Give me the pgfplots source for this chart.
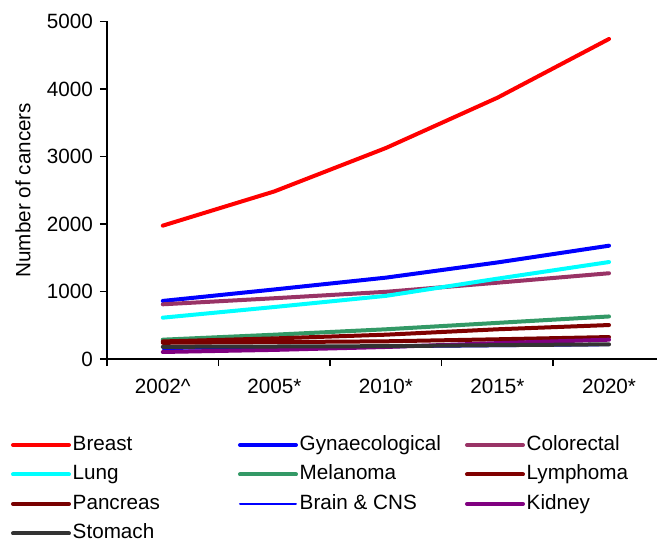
\documentclass[border=0pt]{standalone}
\usepackage{fontspec}
\setmainfont{Liberation Sans}
\usepackage{pgfplots}
\pgfplotsset{compat=1.18}

\definecolor{cBreast}{RGB}{255,0,0}
\definecolor{cGyn}{RGB}{0,0,255}
\definecolor{cColo}{RGB}{153,51,102}
\definecolor{cLung}{RGB}{0,255,255}
\definecolor{cMel}{RGB}{51,153,102}
\definecolor{cLym}{RGB}{128,0,0}
\definecolor{cPan}{RGB}{120,0,0}
\definecolor{cBrain}{RGB}{0,0,255}
\definecolor{cKid}{RGB}{128,0,128}
\definecolor{cSto}{RGB}{51,51,51}

\newcommand\legtxt[1]{\makebox[125.25pt][l]{\hspace{1.3pt}#1}}
\newcommand\fnt{\fontsize{15.5}{18.6}\selectfont}

\begin{document}
\begin{tikzpicture}
\begin{axis}[
  scale only axis, width=412.5pt, height=253.2pt,
  xmin=-0.5, xmax=4.43, ymin=0, ymax=5000,
  axis x line=bottom, axis y line=left,
  axis line style={-, line width=1.2pt, black},
  tick align=outside, major tick length=5.25pt,
  every tick/.style={black, line width=1.2pt},
  xtick={-0.5,0.5,1.5,2.5,3.5}, xticklabels={},
  extra x ticks={0,1,2,3,4},
  extra x tick labels={2002\textasciicircum,2005*,2010*,2015*,2020*},
  extra x tick style={major tick length=0pt, tick label style={yshift=-11.8pt}},
  ytick={0,1000,2000,3000,4000,5000},
  yticklabel style={xshift=-1.8pt},
  /pgf/number format/assume math mode=true,
  /pgf/number format/1000 sep={},
  tick label style={font=\fnt},
  label style={font=\fnt},
  ylabel={Number of cancers},
  ylabel style={at={(axis description cs:-0.1527,0.5)}, anchor=center},
  legend columns=3,
  legend style={at={(0,0)}, anchor=north west, xshift=-72pt, yshift=-57pt,
    draw=none, fill=none, inner sep=0pt, outer sep=0pt,
    column sep=0pt, row sep=7.1pt,
    nodes={inner sep=0pt, text height=11.5pt, text depth=3.5pt, font=\fnt}},
  legend cell align=left,
  legend image code/.code={\draw[#1, line cap=round] (0pt,0pt) -- (42pt,0pt);},
  every axis plot/.append style={line width=3pt, line join=round, line cap=round, mark=none},
]
\addplot[cBrain, line width=1.5pt, forget plot] coordinates {(0,150) (1,160) (2,175) (3,190) (4,205)};
\addplot[cBreast] coordinates {(0,1975) (1,2482) (2,3125) (3,3870) (4,4740)};
\addlegendentry{\legtxt{Breast}}
\addplot[cGyn] coordinates {(0,860) (1,1030) (2,1205) (3,1430) (4,1678)};
\addlegendentry{\legtxt{Gynaecological}}
\addplot[cColo] coordinates {(0,810) (1,900) (2,995) (3,1130) (4,1270)};
\addlegendentry{\legtxt{Colorectal}}
\addplot[cLung] coordinates {(0,612) (1,770) (2,935) (3,1190) (4,1436)};
\addlegendentry{\legtxt{Lung}}
\addplot[cMel] coordinates {(0,286) (1,360) (2,440) (3,535) (4,630)};
\addlegendentry{\legtxt{Melanoma}}
\addplot[cLym] coordinates {(0,260) (1,305) (2,360) (3,440) (4,503)};
\addlegendentry{\legtxt{Lymphoma}}
\addplot[cPan] coordinates {(0,240) (1,250) (2,262) (3,292) (4,325)};
\addlegendentry{\legtxt{Pancreas}}
\addlegendimage{cBrain, line width=1.5pt}
\addlegendentry{\legtxt{Brain \& CNS}}
\addplot[cKid] coordinates {(0,104) (1,135) (2,178) (3,235) (4,286)};
\addlegendentry{\legtxt{Kidney}}
\addplot[cSto] coordinates {(0,180) (1,185) (2,190) (3,205) (4,217)};
\addlegendentry{\legtxt{Stomach}}
\end{axis}
\pgfresetboundingbox
\path (-80.25pt,-137.25pt) rectangle (412.5pt,269.25pt);
\end{tikzpicture}
\end{document}
